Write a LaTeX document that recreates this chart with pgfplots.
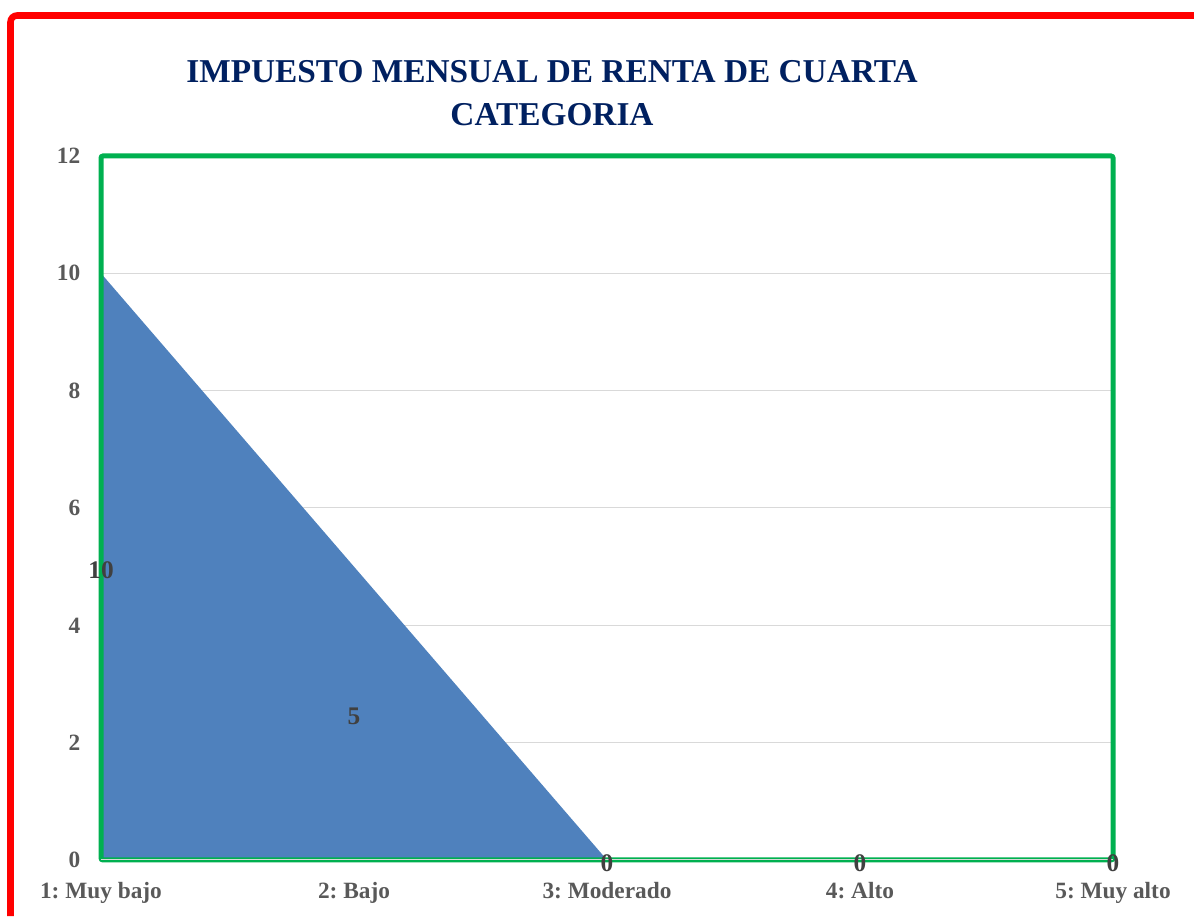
\documentclass[border=0pt]{standalone}
\usepackage{fontspec}
\setmainfont{Liberation Serif}
\usepackage{pgfplots}
\pgfplotsset{compat=1.18}
\definecolor{xlgreen}{RGB}{0,176,80}
\definecolor{areablue}{RGB}{79,129,189}
\definecolor{titleblue}{RGB}{0,32,96}
\definecolor{ticktext}{RGB}{89,89,89}
\definecolor{labeltext}{RGB}{64,64,64}
\definecolor{gridgray}{RGB}{217,217,217}
\frenchspacing
\begin{document}
\begin{tikzpicture}[x=0.75pt,y=0.75pt]
\path[use as bounding box] (0,0) rectangle (1194,916);
\draw[red, line width=4.9pt, rounded corners=5pt] (10.5,0) -- (10.5,900.5) -- (1194,900.5);
\node[font=\bfseries\fontsize{25}{32}\selectfont, text=titleblue, align=center] at (552,823) {IMPUESTO MENSUAL DE RENTA DE CUARTA\\CATEGORIA};
\begin{axis}[
  at={(75.75pt,42pt)}, anchor=south west,
  scale only axis, width=759pt, height=528pt,
  xmin=1, xmax=5, ymin=0, ymax=12,
  xtick={1,2,3,4,5},
  xticklabels={1: Muy bajo, 2: Bajo, 3: Moderado, 4: Alto, 5: Muy alto},
  ytick={0,2,4,6,8,10,12},
  ymajorgrids, grid style={gridgray, line width=0.75pt},
  major tick length=0pt,
  axis line style={draw=none},
  tick label style={font=\bfseries\fontsize{17.5}{20}\selectfont, text=ticktext},
  /pgf/number format/assume math mode=true,
  xticklabel style={yshift=-13pt},
  yticklabel style={xshift=-12pt},
  clip=false,
]
\addplot[fill=areablue, draw=none] coordinates {(1,10) (2,5) (3,0) (4,0) (5,0)} \closedcycle;
\draw[xlgreen, line width=3.75pt, rounded corners=1.5pt] (rel axis cs:0,0) rectangle (rel axis cs:1,1);
\draw[gridgray, line width=0.75pt] (axis cs:1,0) -- (axis cs:5,0);
\addplot[draw=none, nodes near coords, point meta=explicit symbolic,
  nodes near coords align=center,
  every node near coord/.style={font=\bfseries\fontsize{19}{22}\selectfont, text=labeltext, yshift=-2.5pt}]
  coordinates {(1,5) [10] (2,2.5) [5] (3,0) [0] (4,0) [0] (5,0) [0]};
\end{axis}
\end{tikzpicture}
\end{document}
